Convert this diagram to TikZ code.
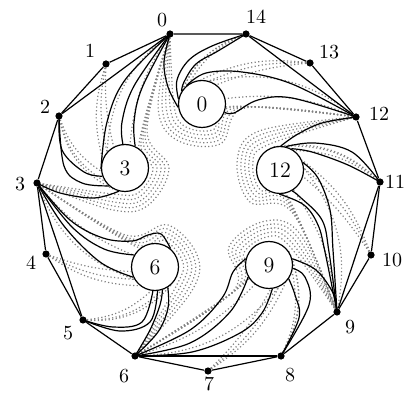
\documentclass[tikz,border=0pt]{standalone}
\usetikzlibrary{calc}
\pgfdeclarelayer{bg}
\pgfsetlayers{bg,main}
\begin{document}
\begin{tikzpicture}[x=0.5pt,y=0.5pt,
  vtx/.style={circle, fill=black, inner sep=0pt, minimum size=3.6pt},
  hole/.style={circle, draw, line width=0.6pt, minimum size=23.5pt, inner sep=0pt, fill=white, font=\fontsize{11}{12}\selectfont},
  vlab/.style={font=\fontsize{10}{12}\selectfont, inner sep=0pt},
  edge/.style={line width=0.6pt},
  dotc/.style={line width=0.6pt, black!50, dash pattern=on 0.6pt off 1.2pt},
  sm/.style={smooth, tension=0.6}]
\useasboundingbox (0,0) rectangle (406,-405);
% vertices
\node[vtx] (v0) at (170,-34) {};
\node[vtx] (v1) at (106,-64) {};
\node[vtx] (v2) at (59,-116) {};
\node[vtx] (v3) at (37,-183) {};
\node[vtx] (v4) at (46,-254) {};
\node[vtx] (v5) at (83,-320) {};
\node[vtx] (v6) at (135,-356) {};
\node[vtx] (v7) at (208,-371) {};
\node[vtx] (v8) at (281,-356) {};
\node[vtx] (v9) at (337,-312) {};
\node[vtx] (v10) at (371,-255) {};
\node[vtx] (v11) at (380,-182) {};
\node[vtx] (v12) at (356,-117) {};
\node[vtx] (v13) at (310,-63) {};
\node[vtx] (v14) at (246,-34) {};
% vertex labels
\node[vlab] (l0) at (162,-20) {0};
\node[vlab] (l1) at (90,-51) {1};
\node[vlab] (l2) at (45,-107) {2};
\node[vlab] (l3) at (20,-184) {3};
\node[vlab] (l4) at (31,-263) {4};
\node[vlab] (l5) at (68,-333) {5};
\node[vlab] (l6) at (124,-376) {6};
\node[vlab] (l7) at (209,-384) {7};
\node[vlab] (l8) at (290,-375) {8};
\node[vlab] (l9) at (350,-327) {9};
\node[vlab] (l10) at (392,-260) {10};
\node[vlab] (l11) at (395,-182) {11};
\node[vlab] (l12) at (379,-114) {12};
\node[vlab] (l13) at (329,-52) {13};
\node[vlab] (l14) at (256,-17) {14};
% holes
\node[hole] (c0) at (202,-104) {0};
\node[hole] (c3) at (125,-168) {3};
\node[hole] (c6) at (155,-267) {6};
\node[hole] (c9) at (269,-265) {9};
\node[hole] (c12) at (280,-170) {12};

\begin{pgfonlayer}{bg}
% dotted wrapping curves round the inner side of each hole
\foreach \c/\ph/\s/\e in {3/-22/0/3, 6/51/3/6, 9/134/6/9, 12/204/9/12, 0/-87/12/0} {
  \foreach \R in {28,32,36,40,44} {
    \coordinate (w\c-\R-a) at ($(c\c)+({\ph+82}:\R)$);
    \coordinate (w\c-\R-b) at ($(c\c)+({\ph+22}:\R)$);
    \coordinate (w\c-\R-c) at ($(c\c)+({\ph-38}:\R)$);
    \coordinate (w\c-\R-d) at ($(c\c)+({\ph-88}:\R)$);
    \draw[dotc] plot[sm] coordinates {(v\s) (w\c-\R-a) (w\c-\R-b) (w\c-\R-c) (w\c-\R-d) (v\e)};
  }
}
% dotted curves filling the fans
\foreach \c/\ph/\a/\m/\t in {3/-22/0/1/2, 6/51/3/4/5, 9/134/6/7/8, 12/204/9/10/11, 0/-87/12/13/14} {
  \foreach \d/\b in {140/8, 160/12, 180/16} {
    \pgfmathtruncatemacro\aa{\ph+\d}
    \draw[dotc] (v\m) to[bend right=\b] (c\c.\aa);
  }
  \foreach \d/\b in {210/18, 236/22, 262/26} {
    \pgfmathtruncatemacro\aa{\ph+\d}
    \draw[dotc] (v\t) to[bend right=\b] (c\c.\aa);
  }
  \foreach \d/\b in {100/14, 160/24} {
    \pgfmathtruncatemacro\aa{\ph+\d}
    \draw[dotc] (v\a) to[bend right=\b] (c\c.\aa);
  }
}
% polygon
\draw[edge] (v0) -- (v1) -- (v2) -- (v3) -- (v4) -- (v5) -- (v6) -- (v7) -- (v8) -- (v9) -- (v10) -- (v11) -- (v12) -- (v13) -- (v14) -- (v0);
% chords
\draw[edge] (v0) -- (v2);
\draw[edge] (v3) -- (v5);
\draw[edge] (v6) -- (v8);
\draw[edge] (v9) -- (v11);
\draw[edge] (v12) -- (v14);
% group 0 (hole 3)
\draw[edge] plot[sm] coordinates {(v0) (125,-80) (107,-122) (c3.183)};
\draw[edge] plot[sm] coordinates {(v0) (134,-86) (122,-122) (c3.95)};
\draw[edge] plot[sm] coordinates {(v0) (142,-88) (134,-122) (c3.65)};
\draw[edge] plot[sm] coordinates {(v2) (62,-150) (84,-172) (c3.200)};
\draw[edge] plot[sm] coordinates {(v2) (64,-166) (82,-183) (c3.228)};
\draw[edge] plot[sm] coordinates {(v3) (60,-193) (94,-198) (c3.255)};
% group 3 (hole 6)
\draw[edge] plot[sm] coordinates {(v3) (70,-220) (103,-238) (132,-241) (148,-235) (161,-234) (c6.50)};
\draw[edge] plot[sm] coordinates {(v3) (72,-227) (104,-249) (c6.150)};
\draw[edge] plot[sm] coordinates {(v3) (64,-226) (100,-262) (c6.205)};
\draw[edge] plot[sm] coordinates {(v5) (113,-327) (142,-322) (c6.-95)};
\draw[edge] plot[sm] coordinates {(v5) (120,-331) (150,-322) (c6.-84)};
\draw[edge] plot[sm] coordinates {(v6) (150,-330) (160,-305) (c6.-72)};
\draw[edge] plot[sm] coordinates {(v6) (158,-332) (168,-308) (c6.-58)};
% group 6 (hole 9)
\draw[edge] plot[sm] coordinates {(v6) (190,-330) (222,-298) (233,-272) (c9.165)};
\draw[edge] plot[sm] coordinates {(v6) (190,-343) (230,-312) (c9.210)};
\draw[edge] plot[sm] coordinates {(v6) (192,-352) (240,-333) (262,-313) (c9.-82)};
\draw[edge] plot[sm] coordinates {(v8) (299,-318) (295,-295) (c9.-35)};
\draw[edge] plot[sm] coordinates {(v8) (309,-305) (305,-277) (c9.-8)};
\draw[edge] plot[sm] coordinates {(v9) (333,-293) (316,-270) (c9.15)};
% group 9 (hole 12)
\draw[edge] plot[sm] coordinates {(v12) (322,-123) (298,-134) (c12.88)};
\draw[edge] plot[sm] coordinates {(v11) (352,-152) (315,-143) (c12.76)};
\draw[edge] plot[sm] coordinates {(v11) (348,-165) (312,-152) (c12.62)};
\draw[edge] plot[sm] coordinates {(v9) (333,-250) (330,-210) (318,-178) (c12.18)};
\draw[edge] plot[sm] coordinates {(v9) (329,-252) (322,-220) (300,-197) (c12.-60)};
\draw[edge] plot[sm] coordinates {(v9) (325,-252) (318,-225) (304,-205) (c12.-92)};
% group 12 (hole 0)
\draw[edge] plot[sm] coordinates {(v12) (292,-84) (242,-72) (206,-73) (c0.130)};
\draw[edge] plot[sm] coordinates {(v12) (292,-98) (258,-100) (234,-113) (c0.-20)};
\draw[edge] plot[sm] coordinates {(v14) (212,-46) (189,-60) (177,-80) (c0.168)};
\draw[edge] plot[sm] coordinates {(v14) (218,-51) (196,-64) (184,-82) (c0.148)};
\draw[edge] plot[sm] coordinates {(v0) (164,-62) (168,-87) (c0.188)};
\end{pgfonlayer}
\end{tikzpicture}
\end{document}
